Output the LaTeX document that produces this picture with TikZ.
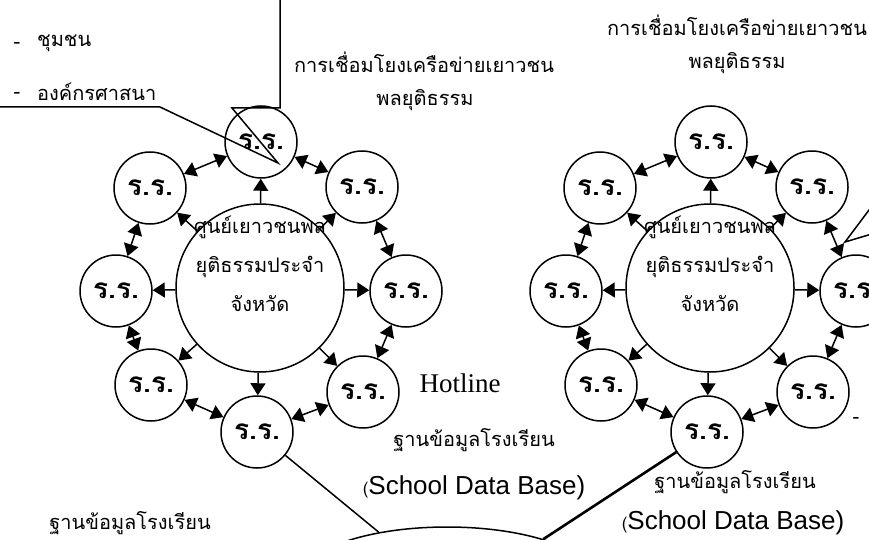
\documentclass[tikz,border=0pt]{standalone}
\usepackage{fontspec}
\setmainfont{Liberation Serif}
\newfontfamily\thaifont[Script=Thai]{Loma}
\newfontfamily\arialfont{Liberation Sans}
\usetikzlibrary{arrows.meta,shapes.geometric}
\tikzset{
  sat/.style={circle, draw, line width=1.5pt, minimum size=72pt, inner sep=0pt,
    font=\thaifont\bfseries\fontsize{28}{30}\selectfont},
  centre/.style={circle, draw, line width=1.5pt, minimum size=168pt, inner sep=0pt},
  thai/.style={font=\thaifont\fontsize{20}{39}\selectfont, align=center, inner sep=0pt},
  eng/.style={font=\arialfont\fontsize{26}{28}\selectfont, inner sep=0pt},
  tms/.style={font=\fontsize{27}{29}\selectfont, inner sep=0pt},
  one/.style={line width=1.5pt, -{Triangle[length=12pt,width=15pt]}},
  two/.style={line width=1.5pt, {Triangle[length=12pt,width=15pt]}-{Triangle[length=12pt,width=15pt]}},
}
\begin{document}
\begin{tikzpicture}[x=1pt,y=-1pt]
\useasboundingbox (0,0) rectangle (869,540);
\clip (0,0) rectangle (869,540);
\fill[white] (0,0) rectangle (869,540);

\foreach \p/\dx in {a/0,b/450}{
  \node[centre] (\p C) at (260+\dx,288) {};
  \node[thai] (\p txt) at (260+\dx,264) {ศูนย์เยาวชนพล\\ยุติธรรมประจำ\\จังหวัด};
  \node[sat] (\p T)  at (261+\dx,142) {ร.ร.};
  \node[sat] (\p TR) at (362+\dx,187) {ร.ร.};
  \node[sat] (\p R)  at (406+\dx,291) {ร.ร.};
  \node[sat] (\p BR) at (363+\dx,392) {ร.ร.};
  \node[sat] (\p B)  at (257+\dx,432) {ร.ร.};
  \node[sat] (\p BL) at (151+\dx,385) {ร.ร.};
  \node[sat] (\p L)  at (116+\dx,291) {ร.ร.};
  \node[sat] (\p TL) at (150+\dx,188) {ร.ร.};
  \foreach \s in {T,TR,R,BR,B,BL,L,TL}{
    \draw[one] (\p C) -- (\p\s);
  }
  \foreach \u/\v in {T/TR,TR/R,R/BR,BR/B,B/BL,BL/L,L/TL,TL/T}{
    \draw[two] (\p\u) -- (\p\v);
  }
}

% bottom hub
\node[ellipse, draw, line width=1.5pt, minimum width=296pt, minimum height=106pt] (hub) at (447,580) {};
\draw[line width=1.5pt] (aB) -- (hub.145.6);
\draw[line width=2.6pt] (bB) -- (hub.23);

% left callout
\draw[line width=1.5pt] (-5,107) -- (160,107) -- (278,163) -- (232,108) -- (280,108) -- (280,-5);
\node[thai] (d1) at (17,45) {-};
\node[thai, anchor=west] (w1) at (37,43) {ชุมชน};
\begin{scope}
  \clip (0,0) rectangle (279,101);
  \node[thai] (d2) at (17,95) {-};
  \node[thai, anchor=west] (w2) at (37,92) {องค์กรศาสนา};
\end{scope}

% right callout
\draw[line width=1.5pt] (875,202) -- (845,242) -- (875,233);
\node[thai] (d3) at (856,420) {-};

% labels
\node[thai] (l1) at (424,62) {การเชื่อมโยงเครือข่ายเยาวชน};
\node[thai] (l2) at (425,100) {พลยุติธรรม};
\node[thai] (r1) at (737,25) {การเชื่อมโยงเครือข่ายเยาวชน};
\node[thai] (r2) at (737,63) {พลยุติธรรม};
\node[tms] (hot) at (460,383) {Hotline};
\node[thai] (m1) at (474,440) {ฐานข้อมูลโรงเรียน};
\node[eng] (m2) at (474,488) {{\thaifont\fontsize{17}{17}\selectfont(}School Data Base)};
\node[thai] (q1) at (735,482) {ฐานข้อมูลโรงเรียน};
\node[eng] (q2) at (733,523) {{\thaifont\fontsize{17}{17}\selectfont(}School Data Base)};
\node[thai] (p1) at (130,523) {ฐานข้อมูลโรงเรียน};
\end{tikzpicture}
\end{document}
